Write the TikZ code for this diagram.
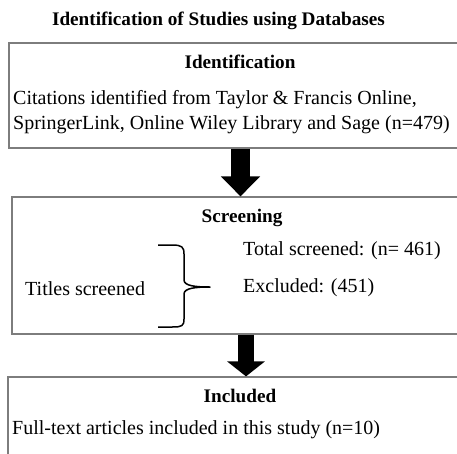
\documentclass[tikz,border=0pt]{standalone}
\usepackage{fontspec}
\setmainfont{Liberation Serif}
\usetikzlibrary{arrows.meta}
\definecolor{boxGray}{RGB}{125,125,125}
\tikzset{
  stagebox/.style={rectangle,draw=boxGray,line width=1.2pt,inner sep=0pt},
  headtext/.style={inner sep=0pt,anchor=base,font=\fontsize{19.2}{23}\selectfont\bfseries},
  bodytext/.style={inner sep=0pt,anchor=base west,font=\fontsize{20}{24}\selectfont},
  bigarrow/.style n args={3}{line width=#1pt,-{Triangle[length=#2pt,width=#3pt]}},
  bracepath/.style={line width=1.5pt,line join=round}
}

\begin{document}
\begin{tikzpicture}[x=1pt,y=-1pt]
\useasboundingbox (0,0) rectangle (457,453);
% Boxes
\node[stagebox,minimum width=466pt,minimum height=105pt] (ident) at (242,95.5) {};
\node[stagebox,minimum width=468pt,minimum height=137pt] (screen) at (246,265.5) {};
\node[stagebox,minimum width=464pt,minimum height=98pt] (incl) at (240,426) {};
% Headings
\node[headtext] (title) at (218.5,25) {Identification of Studies using Databases};
\node[headtext] (identhead) at (240,68) {Identification};
\node[headtext] (screenhead) at (242,222) {Screening};
\node[headtext] (inclhead) at (240,402) {Included};
% Box texts
\node[bodytext] (cit1) at (13,104) {Citations identified from Taylor \& Francis Online,};
\node[bodytext] (cit2) at (13,129) {SpringerLink, Online Wiley Library and Sage (n=479)};
\node[bodytext] (total) at (243,255) {Total screened: (n= 461)};
\node[bodytext] (excl) at (243,292) {Excluded: (451)};
\node[bodytext] (titles) at (25,295) {Titles screened};
\node[bodytext] (full) at (12,434) {Full-text articles included in this study (n=10)};
% Brace
\draw[bracepath] (158,245) -- (172,245) .. controls (182,245) and (184,247) .. (184,254)
  -- (184,280) .. controls (184,286) and (196,287) .. (210,287)
  .. controls (196,287) and (184,288) .. (184,294)
  -- (184,319) .. controls (184,326) and (182,327) .. (172,327) -- (158,327);
% Arrows
\coordinate (a1) at (240.5,0);
\coordinate (a2) at (246,0);
\draw[bigarrow={19}{20}{38}] (ident.south -| a1) -- (screen.north -| a1);
\draw[bigarrow={16}{15}{37}] (screen.south -| a2) -- (incl.north -| a2);
\end{tikzpicture}
\end{document}
